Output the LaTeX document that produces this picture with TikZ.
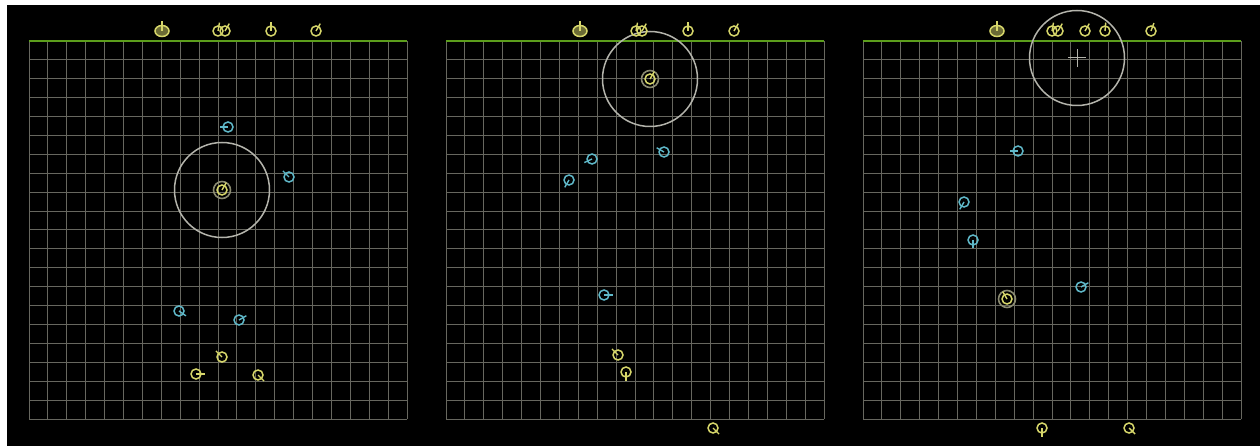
\documentclass[tikz,border=0pt]{standalone}
\usetikzlibrary{shapes.geometric}
\begin{document}
\begin{tikzpicture}[x=1pt,y=-1pt,
  gridline/.style={draw=gridc, line width=1pt},
  topline/.style={draw=topc, line width=2.2pt},
  ymk/.style={circle, draw=yel, line width=1.5pt, inner sep=0pt, minimum size=10pt},
  cmk/.style={circle, draw=cya, line width=1.5pt, inner sep=0pt, minimum size=10pt},
  ytk/.style={draw=yel, line width=1.4pt},
  ctk/.style={draw=cya, line width=1.4pt},
  blobmk/.style={ellipse, draw=yel, line width=1.5pt, inner sep=0pt, minimum width=14pt, minimum height=11pt, fill=yel!50!black},
  rangering/.style={circle, draw=ringc, line width=1.5pt, inner sep=0pt, minimum size=95pt},
  halo/.style={circle, draw=haloc, line width=1.6pt, inner sep=0pt, minimum size=17pt},
  cross/.style={draw=ringc, line width=1pt}]
\definecolor{yel}{HTML}{D6D66A}
\definecolor{cya}{HTML}{5FB8C8}
\definecolor{gridc}{HTML}{67675F}
\definecolor{topc}{HTML}{5C9E1C}
\definecolor{ringc}{HTML}{B4B4AC}
\definecolor{haloc}{HTML}{8A8A70}
\newcommand\mk[5]{\node[#5mk] (#1) at (#2,#3) {}; \draw[#5tk] (#1.center) -- ++({-(#4)}:8.5);}
\newcommand\blob[3]{\node[blobmk] (#1) at (#2,#3) {}; \draw[ytk] (#1.center) -- ++(0,-10);}
\useasboundingbox (0,0) rectangle (1260,446);
\fill[white] (0,0) rectangle (1260,446);
\fill[black] (7,5) rectangle (1260,446);
% grids
\foreach \p in {0,417,834} {
  \foreach \i in {0,...,20} {
    \draw[gridline] (29+\p+\i*18.9,41) -- (29+\p+\i*18.9,419);
    \draw[gridline] (29+\p,41+\i*18.9) -- (407+\p,41+\i*18.9);
  }
  \draw[topline] (29+\p,41) -- (407+\p,41);
}
% panel 1
\node[rangering] (r1) at (222,190) {};
\node[halo] (h1) at (222,190) {};
\blob{a1}{162}{31}
\mk{a3}{218}{31}{80}{y}
\mk{a4}{225}{31}{60}{y}
\mk{a5}{271}{31}{90}{y}
\mk{a6}{316}{31}{60}{y}
\mk{a7}{222}{190}{60}{y}
\mk{a8}{228}{127}{180}{c}
\mk{a9}{289}{177}{135}{c}
\mk{a10}{179}{311}{-35}{c}
\mk{a11}{239}{320}{30}{c}
\mk{a12}{222}{357}{135}{y}
\mk{a13}{196}{374}{0}{y}
\mk{a14}{258}{375}{-45}{y}
% panel 2
\node[rangering] (r2) at (650,79) {};
\node[halo] (h2) at (650,79) {};
\blob{b1}{580}{31}
\mk{b3}{636}{31}{80}{y}
\mk{b4}{642}{31}{60}{y}
\mk{b5}{688}{31}{90}{y}
\mk{b6}{734}{31}{60}{y}
\mk{b7}{650}{79}{60}{y}
\mk{b8}{592}{159}{205}{c}
\mk{b9}{569}{180}{240}{c}
\mk{b10}{664}{152}{150}{c}
\mk{b11}{604}{295}{0}{c}
\mk{b12}{618}{355}{135}{y}
\mk{b13}{626}{372}{-90}{y}
\mk{b14}{713}{428}{-45}{y}
% panel 3
\node[rangering] (r3) at (1077,58) {};
\draw[cross] ([xshift=-9pt]r3.center) -- ([xshift=9pt]r3.center);
\draw[cross] ([yshift=-9pt]r3.center) -- ([yshift=9pt]r3.center);
\node[halo] (h3) at (1007,299) {};
\blob{c1}{997}{31}
\mk{c3}{1052}{31}{80}{y}
\mk{c4}{1058}{31}{60}{y}
\mk{c5}{1085}{31}{60}{y}
\mk{c6}{1105}{31}{85}{y}
\mk{c7}{1151}{31}{70}{y}
\mk{c8}{1018}{151}{180}{c}
\mk{c9}{964}{202}{240}{c}
\mk{c10}{973}{240}{-90}{c}
\mk{c11}{1081}{287}{30}{c}
\mk{c12}{1007}{299}{120}{y}
\mk{c13}{1042}{428}{-90}{y}
\mk{c14}{1129}{428}{-45}{y}
\end{tikzpicture}
\end{document}
